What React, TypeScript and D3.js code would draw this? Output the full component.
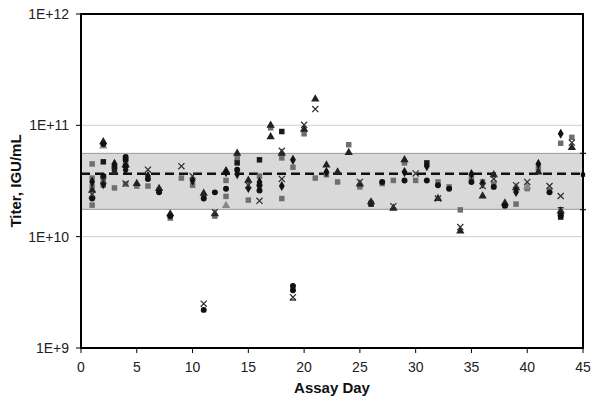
import React from 'react';
import * as d3 from 'd3';

// [assay day, titer IGU/mL]
const diamonds: [number, number][] = [
  [1, 3.1e10], [2, 2.97e10], [3, 4.5e10], [4, 3.96e10], [6, 3.5e10], [10, 3.2e10],
  [13, 3.8e10], [14, 3.65e10], [15, 2.74e10], [16, 3.1e10], [18, 2.85e10], [19, 4.9e10],
  [22, 3.8e10], [29, 3.8e10], [31, 4.3e10], [35, 3.65e10], [39, 2.52e10], [41, 4.5e10],
  [43, 8.4e10], [36, 3.0e10],
];
const greySquares: [number, number][] = [
  [1, 4.5e10], [1, 3.36e10], [1, 1.92e10], [2, 2.9e10], [3, 2.74e10], [4, 2.97e10],
  [5, 2.85e10], [6, 2.85e10], [7, 2.6e10], [8, 1.47e10], [9, 3.36e10], [10, 2.9e10],
  [11, 2.3e10], [12, 1.53e10], [13, 3.2e10], [13, 2.3e10], [14, 5.1e10], [15, 2.13e10],
  [16, 3.5e10], [17, 9.5e10], [18, 5.1e10], [18, 2.2e10], [19, 4.2e10], [20, 8.4e10],
  [21, 3.36e10], [22, 3.6e10], [23, 3.1e10], [24, 6.7e10], [25, 2.8e10], [26, 2.0e10],
  [27, 3.0e10], [28, 3.2e10], [29, 4.6e10], [30, 3.2e10], [32, 3.1e10], [33, 2.8e10],
  [34, 1.74e10], [35, 3.4e10], [36, 3.1e10], [37, 2.97e10], [38, 1.9e10], [39, 1.96e10],
  [40, 2.7e10], [41, 4.1e10], [42, 2.6e10], [43, 6.9e10], [44, 7.8e10],
  [1, 2.8e10], [2, 3.3e10], [4, 4.6e10],
];
const blackSquares: [number, number][] = [
  [2, 4.7e10], [3, 4.1e10], [3, 4.3e10], [16, 4.9e10], [18, 8.8e10], [31, 4.6e10],
  [43, 1.6e10], [43, 1.5e10], [14, 4.6e10], [26, 1.96e10],
];
const triangles: [number, number][] = [
  [1, 2.6e10], [2, 7.1e10], [3, 3.8e10], [4, 4.4e10], [5, 3.0e10], [7, 2.7e10],
  [8, 1.6e10], [11, 2.45e10], [12, 1.6e10], [13, 3.9e10], [14, 5.6e10], [15, 3.2e10],
  [17, 1.0e11], [17, 7.9e10], [18, 5.6e10], [20, 9.2e10], [21, 1.72e11], [22, 4.4e10],
  [23, 3.8e10], [24, 5.7e10], [25, 2.97e10], [26, 2.05e10], [28, 1.8e10], [29, 4.9e10],
  [32, 2.2e10], [34, 1.12e10], [36, 2.32e10], [37, 3.6e10], [38, 2.0e10], [39, 2.75e10],
  [41, 3.8e10], [43, 1.7e10], [44, 6.3e10],
];
const greyTriangles: [number, number][] = [
  [13, 1.9e10], [1, 2.3e10], [40, 2.8e10], [2, 6.5e10],
];
const crosses: [number, number][] = [
  [1, 2.4e10], [2, 3.2e10], [4, 3.0e10], [6, 4.0e10], [9, 4.3e10], [10, 3.5e10],
  [12, 1.66e10], [15, 2.9e10], [16, 2.1e10], [18, 5.9e10], [18, 3.3e10],
  [20, 1.01e11], [21, 1.4e11], [25, 3.1e10], [28, 1.88e10], [30, 3.7e10], [32, 2.2e10],
  [34, 1.22e10], [36, 2.85e10], [39, 2.9e10], [40, 3.1e10], [42, 2.85e10], [43, 2.32e10],
  [44, 7.0e10], [11, 2.5e9], [19, 2.86e9], [37, 3.3e10],
];
const circles: [number, number][] = [
  [1, 2.2e10], [2, 3.5e10], [4, 4.9e10], [4, 4.3e10], [6, 3.3e10], [7, 2.5e10],
  [8, 1.53e10], [11, 2.2e9], [11, 2.2e10], [12, 2.5e10], [13, 2.7e10], [14, 4.0e10],
  [16, 2.9e10], [16, 2.6e10], [19, 3.3e9], [19, 3.6e9], [27, 3.1e10], [29, 3.2e10],
  [31, 3.2e10], [32, 2.9e10], [33, 2.7e10], [35, 3.1e10], [37, 2.8e10], [42, 2.5e10],
  [43, 1.55e10], [38, 1.9e10], [2, 6.8e10], [4, 5.2e10],
];
const dashes: [number, number][] = [
  [19, 2.7e9], [43, 1.82e10], [45, 5.6e10], [45, 1.75e10],
];
const meanPoint: [number, number][] = [[45, 3.6e10]];

const mean = 3.67e10;
const upperLimit = 5.6e10;
const lowerLimit = 1.76e10;
const xTicks = [0, 5, 10, 15, 20, 25, 30, 35, 40, 45];
const yTicks = [1e9, 1e10, 1e11, 1e12];
const yTickLabels = ['1E+9', '1E+10', '1E+11', '1E+12'];

const left = 81, right = 583, top = 14, bottom = 348;

const App = () => {
  const x = d3.scaleLinear().domain([0, 45]).range([left, right]);
  const y = d3.scaleLog().domain([1e9, 1e12]).range([bottom, top]);

  const font = 'Liberation Sans, Arial, sans-serif';

  const sym = (type: d3.SymbolType, size: number) => d3.symbol().type(type).size(size)() as string;

  const series = [
    { data: greySquares, path: sym(d3.symbolSquare, 30), fill: '#6f6f6f', stroke: 'none' },
    { data: blackSquares, path: sym(d3.symbolSquare, 30), fill: '#1a1a1a', stroke: 'none' },
    { data: triangles, path: sym(d3.symbolTriangle, 30), fill: '#222', stroke: 'none' },
    { data: greyTriangles, path: sym(d3.symbolTriangle, 30), fill: '#888', stroke: 'none' },
    { data: diamonds, path: sym(d3.symbolDiamond, 30), fill: '#111', stroke: 'none' },
    { data: circles, path: sym(d3.symbolCircle, 28), fill: '#111', stroke: 'none' },
    { data: crosses, path: sym(d3.symbolX, 26), fill: 'none', stroke: '#333' },
    { data: meanPoint, path: sym(d3.symbolSquare, 18), fill: '#111', stroke: 'none' },
  ];

  return (
    <svg width={600} height={403} style={{ position: 'absolute', left: 0, top: 0, background: '#fff' }}>
      {/* acceptance band */}
      <rect x={left} y={y(upperLimit)} width={right - left} height={y(lowerLimit) - y(upperLimit)} fill="#d9d9d9" />
      <line x1={left} x2={right} y1={y(upperLimit)} y2={y(upperLimit)} stroke="#9a9a9a" strokeWidth={1} />
      <line x1={left} x2={right} y1={y(lowerLimit)} y2={y(lowerLimit)} stroke="#9a9a9a" strokeWidth={1} />

      {/* gridlines */}
      {yTicks.slice(1, 3).map(t => (
        <line key={t} x1={left} x2={right} y1={y(t)} y2={y(t)} stroke="#cfcfcf" strokeWidth={1} />
      ))}

      <line x1={left} x2={right} y1={y(mean)} y2={y(mean)} stroke="#111" strokeWidth={2.5} strokeDasharray="9,5" />

      {series.map((s, i) => (
        <g key={i}>
          {s.data.map((d, j) => (
            <path key={j} d={s.path} transform={`translate(${x(d[0])},${y(d[1])})`}
              fill={s.fill} stroke={s.stroke} strokeWidth={1.3} />
          ))}
        </g>
      ))}
      {dashes.map((d, j) => (
        <line key={j} x1={x(d[0]) - 3} x2={x(d[0]) + 3} y1={y(d[1])} y2={y(d[1])} stroke="#222" strokeWidth={1.3} />
      ))}

      {/* frame */}
      <rect x={left} y={top} width={right - left} height={bottom - top} fill="none" stroke="#000" strokeWidth={2} />

      {/* y axis */}
      {yTicks.map((t, i) => (
        <g key={t}>
          <line x1={left - 5} x2={left} y1={y(t)} y2={y(t)} stroke="#000" strokeWidth={1} />
          <text x={69} y={y(t)} dy="0.36em" textAnchor="end" fontFamily={font} fontSize={14} fill="#222">
            {yTickLabels[i]}
          </text>
        </g>
      ))}
      {/* x axis */}
      {xTicks.map(t => (
        <g key={t}>
          <line x1={x(t)} x2={x(t)} y1={bottom} y2={bottom + 5} stroke="#000" strokeWidth={1} />
          <text x={x(t)} y={372} textAnchor="middle" fontFamily={font} fontSize={14} fill="#222">{t}</text>
        </g>
      ))}
      <text x={(left + right) / 2} y={393} textAnchor="middle" fontFamily={font} fontSize={15} fontWeight="bold" fill="#111">
        Assay Day
      </text>
      <text transform={`translate(21,${(top + bottom) / 2}) rotate(-90)`} textAnchor="middle" fontFamily={font}
        fontSize={15} fontWeight="bold" fill="#111">
        Titer, IGU/mL
      </text>
    </svg>
  );
};

export default App;
